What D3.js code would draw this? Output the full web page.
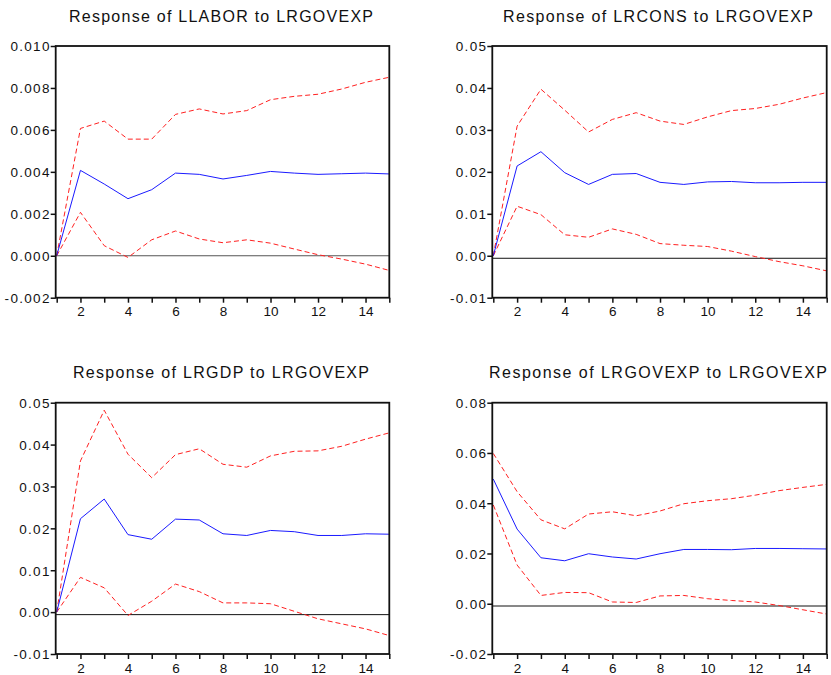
<!DOCTYPE html>
<html>
<head>
<meta charset="utf-8">
<script src="https://cdn.jsdelivr.net/npm/d3@7/dist/d3.min.js"></script>
<style>
  body { margin: 0; background: #fff; }
  text { font-family: "Liberation Sans", Arial, sans-serif; fill: #111; }
</style>
</head>
<body>
<svg id="chart" width="831" height="675"></svg>
<script>
// impulse response periods
const periods = [1, 2, 3, 4, 5, 6, 7, 8, 9, 10, 11, 12, 13, 14, 15];
const xTickLabels = [2, 4, 6, 8, 10, 12, 14];

// Response of LLABOR
const laborMid = [0, 0.00407, 0.00342, 0.00272, 0.00315, 0.00394, 0.00388, 0.00366, 0.00383, 0.00402, 0.00394, 0.00388, 0.00391, 0.00394, 0.00390];
const laborUp  = [0, 0.00607, 0.00642, 0.00556, 0.00556, 0.00674, 0.00700, 0.00676, 0.00692, 0.00744, 0.00760, 0.00770, 0.00795, 0.00827, 0.00851];
const laborLo  = [0, 0.00207, 0.00048, -0.00008, 0.00076, 0.00118, 0.00080, 0.00062, 0.00076, 0.00060, 0.00032, 0.00005, -0.00016, -0.00040, -0.00070];
const laborTicks = [-0.002, 0, 0.002, 0.004, 0.006, 0.008, 0.010];
const laborTickLabels = ["-0.002", "0.000", "0.002", "0.004", "0.006", "0.008", "0.010"];

// Response of LRCONS
const consMid = [0, 0.0214, 0.0248, 0.0198, 0.0170, 0.0194, 0.0196, 0.0175, 0.0170, 0.0176, 0.0177, 0.0174, 0.0174, 0.0175, 0.0175];
const consUp  = [0, 0.0309, 0.0397, 0.0347, 0.0295, 0.0325, 0.0341, 0.0321, 0.0313, 0.0331, 0.0346, 0.0351, 0.0361, 0.0376, 0.0389];
const consLo  = [0, 0.0118, 0.0098, 0.0050, 0.0044, 0.0064, 0.0051, 0.0029, 0.0025, 0.0022, 0.0011, -0.0002, -0.0014, -0.0024, -0.0036];
const consTicks = [-0.01, 0, 0.01, 0.02, 0.03, 0.04, 0.05];
const consTickLabels = ["-0.01", "0.00", "0.01", "0.02", "0.03", "0.04", "0.05"];

// Response of LRGDP
const gdpMid = [0, 0.0223, 0.0270, 0.0185, 0.0174, 0.0222, 0.0220, 0.0187, 0.0183, 0.0195, 0.0192, 0.0183, 0.0183, 0.0187, 0.0186];
const gdpUp  = [0, 0.0361, 0.0482, 0.0377, 0.0321, 0.0376, 0.0390, 0.0353, 0.0346, 0.0373, 0.0384, 0.0385, 0.0396, 0.0413, 0.0428];
const gdpLo  = [0, 0.0083, 0.0058, -0.0008, 0.0026, 0.0067, 0.0049, 0.0022, 0.0022, 0.0020, 0.0002, -0.0016, -0.0028, -0.0040, -0.0056];
const gdpTicks = [-0.01, 0, 0.01, 0.02, 0.03, 0.04, 0.05];
const gdpTickLabels = ["-0.01", "0.00", "0.01", "0.02", "0.03", "0.04", "0.05"];

// Response of LRGOVEXP
const govMid = [0.0496, 0.0297, 0.0183, 0.0171, 0.0199, 0.0186, 0.0178, 0.0199, 0.0216, 0.0216, 0.0215, 0.0220, 0.0220, 0.0219, 0.0218];
const govUp  = [0.0598, 0.0446, 0.0334, 0.0298, 0.0357, 0.0366, 0.0350, 0.0369, 0.0398, 0.0410, 0.0418, 0.0432, 0.0450, 0.0463, 0.0475];
const govLo  = [0.0393, 0.0154, 0.0033, 0.0045, 0.0044, 0.0007, 0.0005, 0.0031, 0.0033, 0.0020, 0.0013, 0.0007, -0.0007, -0.0024, -0.0041];
const govTicks = [-0.02, 0, 0.02, 0.04, 0.06, 0.08];
const govTickLabels = ["-0.02", "0.00", "0.02", "0.04", "0.06", "0.08"];

const titles = [
  "Response of LLABOR to LRGOVEXP",
  "Response of LRCONS to LRGOVEXP",
  "Response of LRGDP to LRGOVEXP",
  "Response of LRGOVEXP to LRGOVEXP"
];

const panels = [
  { title: titles[0], mid: laborMid, up: laborUp, lo: laborLo, ticks: laborTicks, labels: laborTickLabels, zero: 0 },
  { title: titles[1], mid: consMid, up: consUp, lo: consLo, ticks: consTicks, labels: consTickLabels, zero: -0.0006 },
  { title: titles[2], mid: gdpMid, up: gdpUp, lo: gdpLo, ticks: gdpTicks, labels: gdpTickLabels, zero: -0.0006 },
  { title: titles[3], mid: govMid, up: govUp, lo: govLo, ticks: govTicks, labels: govTickLabels, zero: -0.0009 }
];

// frame boxes for the 2x2 grid
const boxes = [
  { left: 55.7, right: 389.3, top: 46, bottom: 297.7, titleX: 221, titleY: 22, titleW: 304 },
  { left: 492.3, right: 826.7, top: 46, bottom: 297.7, titleX: 658, titleY: 22, titleW: 310 },
  { left: 55.7, right: 389.3, top: 402.7, bottom: 654, titleX: 221, titleY: 378, titleW: 296 },
  { left: 492.3, right: 826.7, top: 402.7, bottom: 654, titleX: 658, titleY: 378, titleW: 338 }
];

const svg = d3.select("#chart");

panels.forEach(function (p, i) {
  const b = boxes[i];
  const g = svg.append("g");

  const x = d3.scaleLinear().domain([1, 15]).range([b.left + 1, b.right]);
  const y = d3.scaleLinear()
    .domain([d3.min(p.ticks), d3.max(p.ticks)])
    .range([b.bottom, b.top]);

  g.append("text")
    .attr("x", b.titleX)
    .attr("y", b.titleY)
    .attr("text-anchor", "middle")
    .attr("font-size", "16px")
    .attr("textLength", b.titleW)
    .attr("lengthAdjust", "spacing")
    .text(p.title);

  // y axis
  const yAxis = d3.axisLeft(y)
    .tickValues(p.ticks)
    .tickSize(5)
    .tickFormat(function (d, k) { return p.labels[k]; });
  const ya = g.append("g")
    .attr("transform", "translate(" + b.left + ",0)")
    .call(yAxis);
  ya.select(".domain").remove();
  ya.selectAll("line").attr("stroke", "#111").attr("stroke-width", 1.5);
  ya.selectAll("text")
    .attr("font-size", "13.5px")
    .attr("letter-spacing", "1.3px")
    .attr("x", -5)
    .attr("dy", "0.36em")
    .attr("fill", "#111");

  // x axis
  const xAxis = d3.axisBottom(x)
    .tickValues(periods)
    .tickSize(5)
    .tickFormat(function (d) { return xTickLabels.indexOf(d) >= 0 ? d : ""; });
  const xa = g.append("g")
    .attr("transform", "translate(0," + b.bottom + ")")
    .call(xAxis);
  xa.select(".domain").remove();
  xa.selectAll("line").attr("stroke", "#111").attr("stroke-width", 1.5);
  xa.selectAll("text")
    .attr("font-size", "13.5px")
    .attr("y", 9)
    .attr("dy", "0.71em")
    .attr("fill", "#111");

  // zero reference line
  g.append("line")
    .attr("x1", b.left)
    .attr("x2", b.right)
    .attr("y1", y(p.zero))
    .attr("y2", y(p.zero))
    .attr("stroke", i === 0 ? "#555" : "#111")
    .attr("stroke-width", 1);

  const line = d3.line()
    .x(function (d, k) { return x(periods[k]); })
    .y(function (d) { return y(d); });

  [p.up, p.lo].forEach(function (s) {
    g.append("path")
      .datum(s)
      .attr("d", line)
      .attr("fill", "none")
      .attr("stroke", "#ff2020")
      .attr("stroke-width", 1)
      .attr("stroke-dasharray", "5,3");
  });

  g.append("path")
    .datum(p.mid)
    .attr("d", line)
    .attr("fill", "none")
    .attr("stroke", "#1a1aff")
    .attr("stroke-width", 1);

  // frame
  g.append("rect")
    .attr("x", b.left)
    .attr("y", b.top)
    .attr("width", b.right - b.left)
    .attr("height", b.bottom - b.top)
    .attr("fill", "none")
    .attr("stroke", "#111")
    .attr("stroke-width", 1.8);
});
</script>
</body>
</html>
